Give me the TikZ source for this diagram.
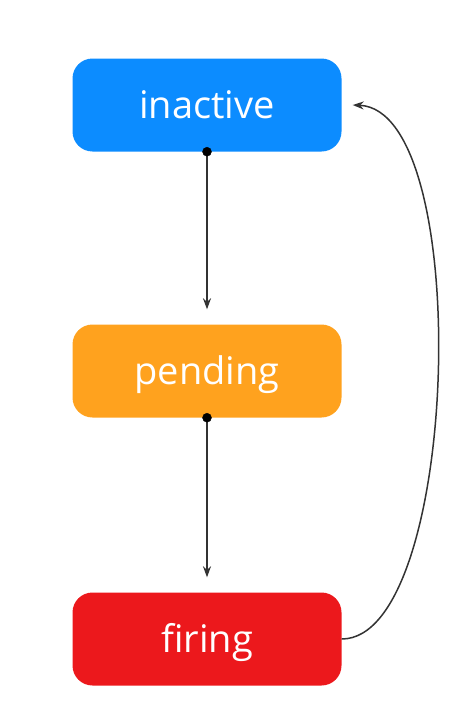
\documentclass[tikz,border=0pt]{standalone}
\usepackage{fontspec}
\setmainfont{Open Sans}
\usetikzlibrary{arrows.meta,calc}

\definecolor{stblue}{RGB}{12,140,255}
\definecolor{storange}{RGB}{255,162,30}
\definecolor{stred}{RGB}{236,24,28}

\tikzset{
  state/.style={rounded corners=20pt, minimum width=269pt, minimum height=93pt,
    text=white, font=\fontsize{38}{44}\selectfont, inner sep=0pt,
    text height=27pt, text depth=0pt},
  flow/.style={-{Stealth[length=11pt,width=8pt]}, line width=1.5pt, black!80}
}

\begin{document}
\begin{tikzpicture}[x=1pt,y=-1pt]

\useasboundingbox (0,0) rectangle (456,712);

\node[state, fill=stblue] (inactive) at (207,105) {inactive};
\node[state, fill=storange] (pending) at (207,371) {pending};
\node[state, fill=stred] (firing) at (207,639) {firing};

\coordinate (back) at ($(inactive.east)+(11,0)$);

\draw[flow] (inactive.south) -- ($(pending.north)+(0,-15)$);
\draw[flow] (pending.south) -- ($(firing.north)+(0,-15)$);
\draw[flow] (firing.east) .. controls (460,639) and (475,110) .. (back);

\filldraw[black] (inactive.south) circle (4.5pt);
\filldraw[black] (pending.south) circle (4.5pt);

\end{tikzpicture}
\end{document}
